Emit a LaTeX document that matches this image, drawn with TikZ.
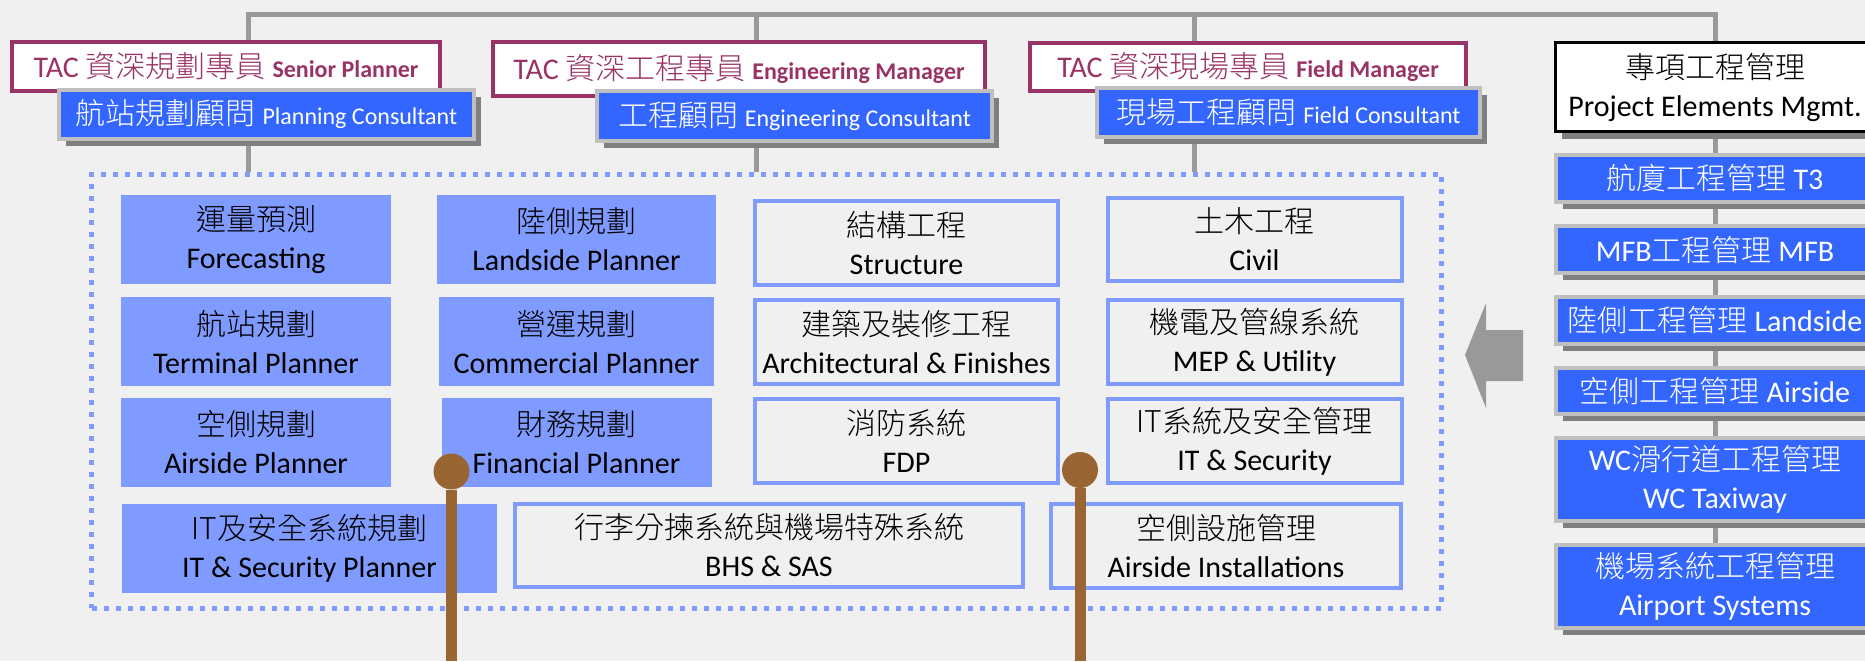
\documentclass[tikz,border=0pt]{standalone}
\usepackage{fontspec}
\setmainfont{Carlito}
\newfontfamily\cjk{Noto Sans CJK TC Light}
\usepackage{tikz}
\usetikzlibrary{positioning}
\usetikzlibrary{shadows}
\definecolor{tacred}{HTML}{993366}
\definecolor{consblue}{HTML}{3366FF}
\definecolor{consgray}{HTML}{BFBFBF}
\definecolor{shadowgray}{HTML}{7F7F7F}
\definecolor{planblue}{RGB}{127,155,255}
\definecolor{busgray}{HTML}{999999}
\definecolor{polebrown}{HTML}{996633}
\definecolor{bgcolor}{HTML}{F0F0F0}
\pgfdeclarelayer{bg}
\pgfdeclarelayer{lines}
\pgfsetlayers{bg,lines,main}
\newcommand{\latsmall}{\fontsize{24}{30}\selectfont}
\tikzset{tac node/.style={draw=tacred,line width=4pt,fill=white,text=tacred,inner sep=0pt,font=\fontsize{30}{36}\selectfont},
  cons node/.style={draw=consgray,line width=4pt,fill=consblue,text=white,inner sep=0pt,align=center,
    drop shadow={shadow xshift=7pt,shadow yshift=-7pt,fill=shadowgray,opacity=1},font=\fontsize{30}{38}\selectfont},
  mgmt node/.style={cons node,minimum width=318pt,minimum height=47pt},
  plan node/.style={fill=planblue,minimum width=270pt,minimum height=89pt,inner sep=0pt,align=center,font=\fontsize{30}{38}\selectfont},
  work node/.style={draw=planblue,line width=4pt,minimum width=303pt,minimum height=84pt,inner sep=0pt,align=center,font=\fontsize{30}{38}\selectfont},
  bus/.style={draw=busgray,line width=5pt},
  ballnode/.style={circle,fill=polebrown,minimum size=36pt,inner sep=0pt},
  pole/.style={draw=polebrown,line width=11pt},}

\begin{document}
\begin{tikzpicture}[x=1pt,y=-1pt,node distance=20pt]
\useasboundingbox (0,0) rectangle (1865,661);
\begin{pgfonlayer}{bg}
\fill[bgcolor] (0,0) rectangle (1865,661);
\end{pgfonlayer}

    \node[draw=planblue,line width=5pt,dash pattern=on 5pt off 7pt,minimum width=1350pt,minimum height=434pt,inner sep=0pt] (frame) at (766.5,391) {};

    \node[plan node] (fore) at (256,239.5) {{\cjk 運量預測}\\Forecasting};
    \node[plan node] (term) [below = 13pt of fore] {{\cjk 航站規劃}\\Terminal Planner};
    \node[plan node] (air) [below = 11pt of term] {{\cjk 空側規劃}\\Airside Planner};
    \node[plan node,minimum width=375pt] (itp) at (309.5,548) {{\cjk IT及安全系統規劃}\\IT \& Security Planner};
    \node[plan node,minimum width=279pt] (land) at (576.5,239.5) {{\cjk 陸側規劃}\\Landside Planner};
    \node[plan node,minimum width=275pt] (comm) [below = 13pt of land] {{\cjk 營運規劃}\\Commercial Planner};
    \node[plan node] (fin) [below = 11pt of comm] {{\cjk 財務規劃}\\Financial Planner};

    \node[work node] (str) at (906.5,243) {{\cjk 結構工程}\\Structure};
    \node[work node] (arch) [below = 11pt of str] {{\cjk 建築及裝修工程}\\Architectural \& Finishes};
    \node[work node] (fdp) [below = 11pt of arch] {{\cjk 消防系統}\\FDP};
    \node[work node,minimum width=294pt,minimum height=83pt] (civ) at (1254.5,239.5) {{\cjk 土木工程}\\Civil};
    \node[work node,minimum width=294pt] (mep) [below = 15pt of civ] {{\cjk 機電及管線系統}\\MEP \& Utility};
    \node[work node,minimum width=294pt] (its) [below = 11pt of mep] {{\cjk IT系統及安全管理}\\IT \& Security};
    \node[work node,minimum width=508pt,minimum height=83pt] (bhs) at (769,545.5) {{\cjk 行李分揀系統與機場特殊系統}\\BHS \& SAS};
    \node[work node,minimum width=350pt] (ai) at (1226,546) {{\cjk 空側設施管理}\\Airside Installations};

    \node[tac node,minimum width=428pt,minimum height=49pt] (sp) at (226,66.5) {TAC {\cjk 資深規劃專員} {\latsmall\bfseries Senior Planner}};
    \node[tac node,minimum width=492pt,minimum height=54pt] (em) at (739,69) {TAC {\cjk 資深工程專員} {\latsmall\bfseries Engineering Manager}};
    \node[tac node,minimum width=436pt,minimum height=48pt] (fm) at (1248,67) {TAC {\cjk 資深現場專員} {\latsmall\bfseries Field Manager}};

    \node[cons node,minimum width=415pt,minimum height=49pt] (pc) at (266.5,114) {{\cjk 航站規劃顧問} {\latsmall Planning Consultant}};
    \node[cons node,minimum width=395pt,minimum height=50pt] (ec) at (794.5,116) {{\cjk 工程顧問} {\latsmall Engineering Consultant}};
    \node[cons node,minimum width=383pt,minimum height=49pt] (fc) at (1288.5,112.5) {{\cjk 現場工程顧問} {\latsmall Field Consultant}};

    \node[cons node,draw=black,line width=3pt,fill=white,text=black,minimum width=320pt,minimum height=89pt] (pem) at (1715,87) {{\cjk 專項工程管理}\\Project Elements Mgmt.};
    \node[mgmt node] (t3) [below = of pem] {{\cjk 航廈工程管理} T3};
    \node[mgmt node] (mfb) [below = of t3] {MFB{\cjk 工程管理} MFB};
    \node[mgmt node] (ls) [below = of mfb] {{\cjk 陸側工程管理} Landside};
    \node[mgmt node,minimum height=46pt] (as) [below = of ls] {{\cjk 空側工程管理} Airside};
    \node[mgmt node,minimum height=83pt] (wc) [below = of as] {WC{\cjk 滑行道工程管理}\\WC Taxiway};
    \node[mgmt node,minimum height=83pt] (sys) [below = of wc] {{\cjk 機場系統工程管理}\\Airport Systems};

    \fill[busgray] (1523,330) -- (1486,330) -- (1486,303) -- (1465,355) -- (1486,408) -- (1486,381) -- (1523,381) -- cycle;

    \coordinate (j1) at (248,15);
    \coordinate (j2) at (756,15);
    \coordinate (j3) at (1194,15);
    \coordinate (j4) at (1715,15);
    \begin{pgfonlayer}{lines}
    \path[bus]
    (j1 |- frame.north) -- (j1) -- (j4) -- (j4 |- sys.north)
    (j2) -- (j2 |- frame.north)
    (j3) -- (j3 |- frame.north);
    \end{pgfonlayer}

    \node[ballnode] (p1) at (451.5,471.5) {};
    \node[ballnode] (p2) at (1080,470) {};
    \coordinate (p1e) at (451.5,661);
    \coordinate (p2e) at (1080,661);
    \path[pole] (p1) -- (p1e) (p2) -- (p2e);
\end{tikzpicture}
\end{document}
